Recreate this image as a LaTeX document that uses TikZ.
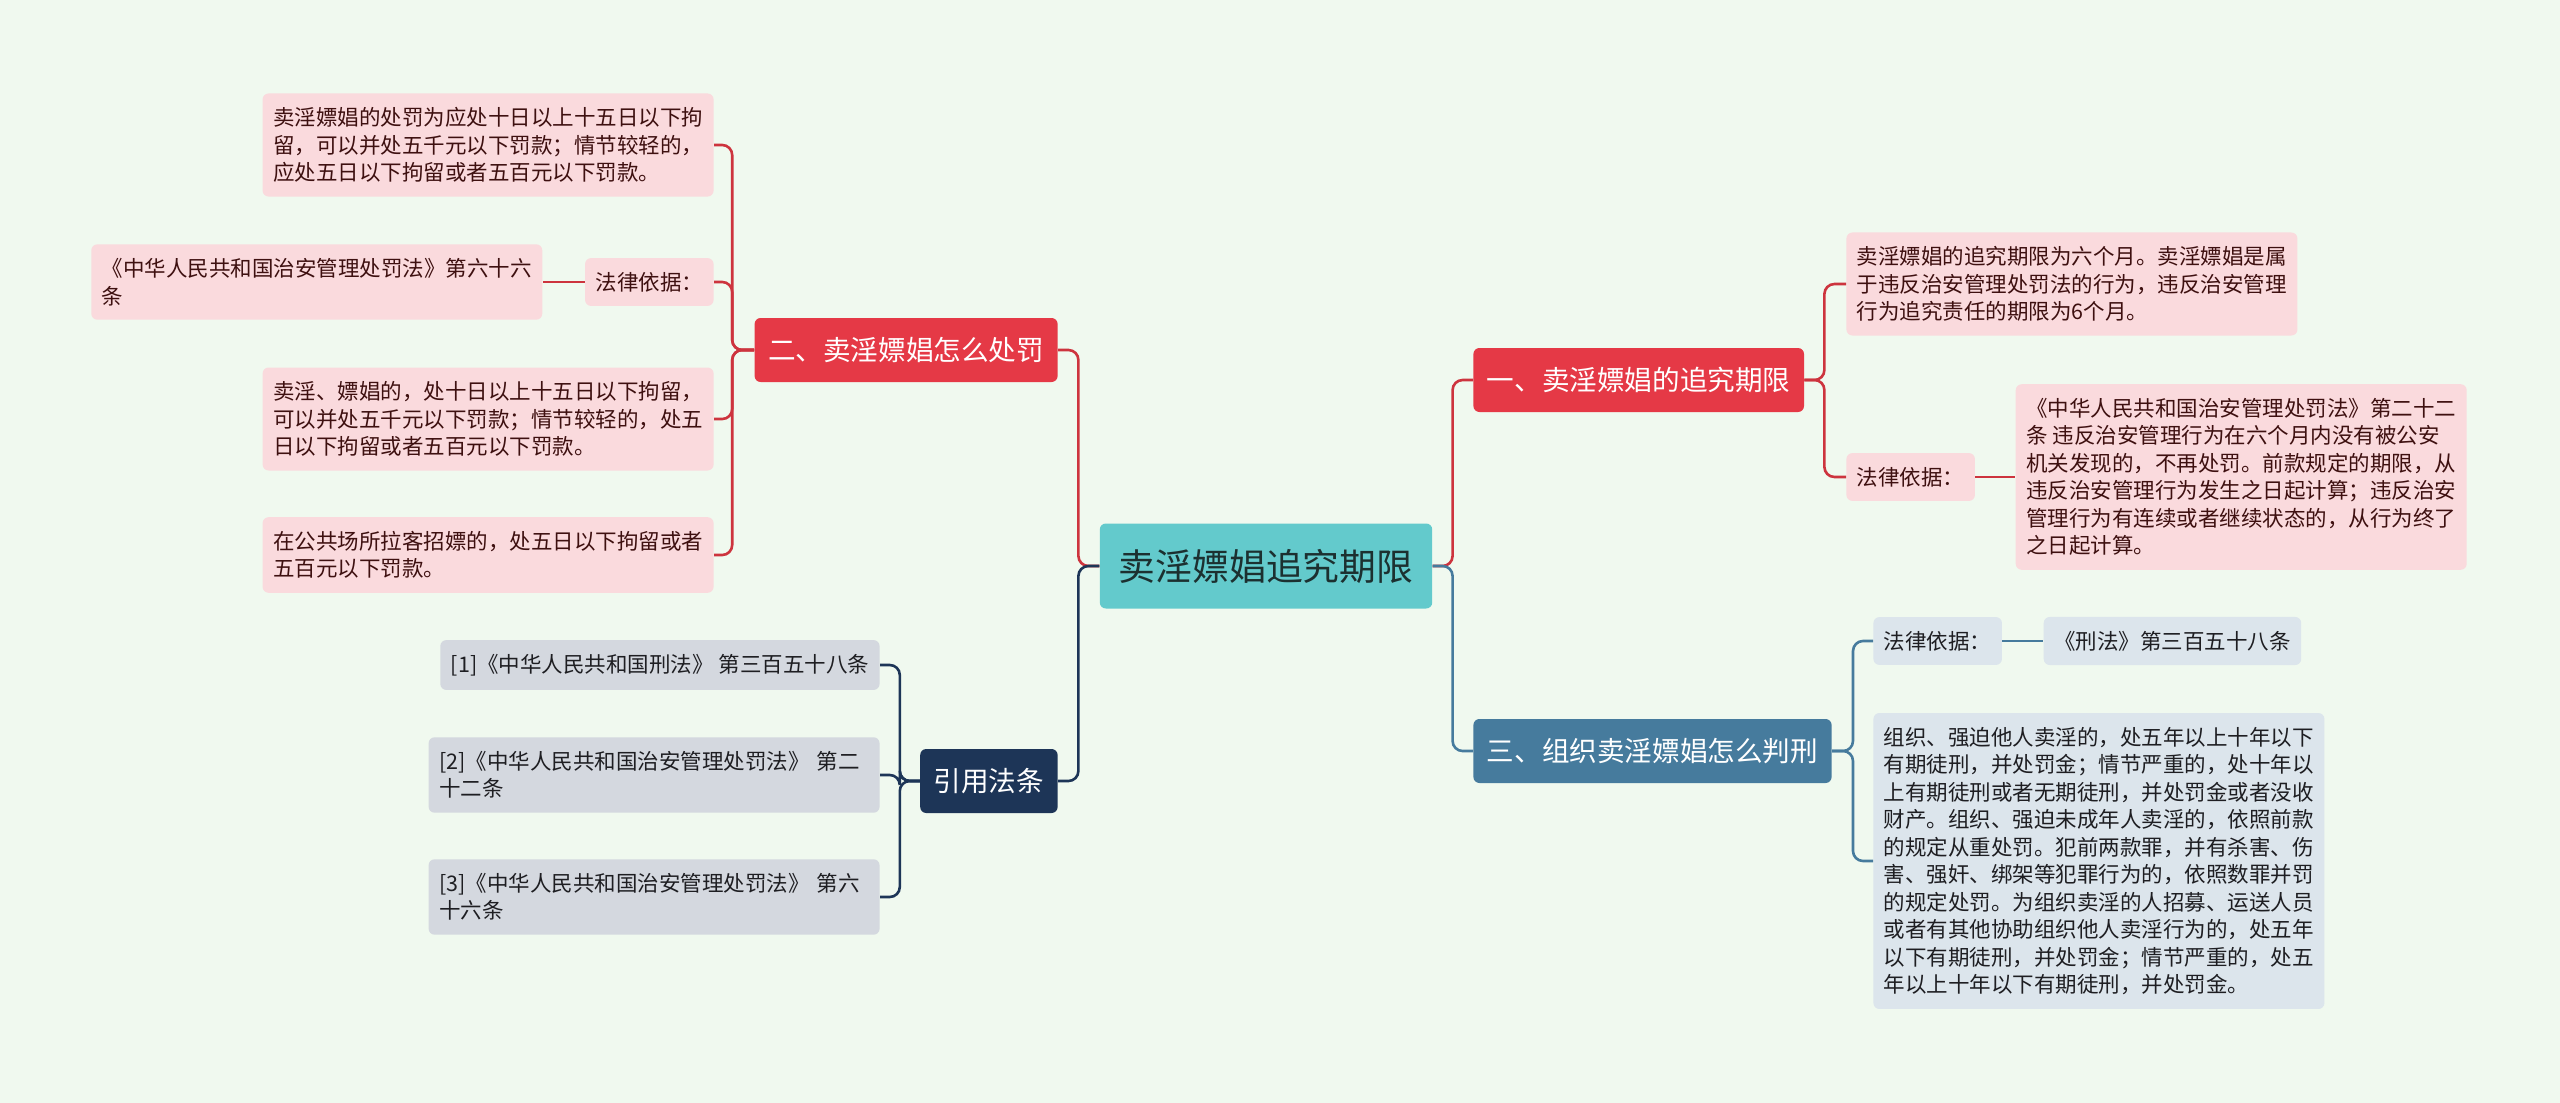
\documentclass[tikz,border=0pt]{standalone}
\usepackage{fontspec}
\setmainfont{Noto Sans CJK SC}
\usepackage{xcolor}
\usepackage{tikz}
\usetikzlibrary{positioning}

\definecolor{bgmint}{RGB}{240,249,239}
\definecolor{rootteal}{RGB}{99,202,204}
\definecolor{roottext}{RGB}{28,48,48}
\definecolor{topicred}{RGB}{229,57,70}
\definecolor{linered}{RGB}{205,52,62}
\definecolor{leafpink}{RGB}{250,218,221}
\definecolor{pinktext}{RGB}{62,16,16}
\definecolor{topicnavy}{RGB}{29,53,87}
\definecolor{leafgray}{RGB}{212,216,223}
\definecolor{topicblue}{RGB}{70,123,157}
\definecolor{leafblue}{RGB}{220,229,236}
\definecolor{leaftext}{RGB}{30,30,34}

\tikzset{
  box/.style={rounded corners=3pt, align=left},
  rootbox/.style={box, fill=rootteal, text=roottext, font=\fontsize{18.4}{22}\selectfont, inner xsep=9.5pt, minimum height=42.5pt},
  topicbox/.style={box, text=white, font=\fontsize{13.8}{16}\selectfont, inner xsep=6.75pt, minimum height=32pt},
  leafbox/.style={box, font=\fontsize{10.75}{13.75}\selectfont, inner xsep=5.25pt, inner ysep=7pt},
  pinkleaf/.style={leafbox, fill=leafpink, text=pinktext},
  grayleaf/.style={leafbox, fill=leafgray, text=leaftext},
  blueleaf/.style={leafbox, fill=leafblue, text=leaftext},
  link/.style={line width=1.3pt, rounded corners=5pt}
}

\begin{document}
\begin{tikzpicture}[x=0.5pt, y=-0.5pt]
  \fill[bgmint] (0,0) rectangle (2560,1103);

  \node[rootbox] (root) at (1266,566) {卖淫嫖娼追究期限};

  \node[topicbox, fill=topicred, anchor=east] (punish) at (1058,350) {二、卖淫嫖娼怎么处罚};
  \node[pinkleaf, anchor=east] (pfirst) at (714,145) {卖淫嫖娼的处罚为应处十日以上十五日以下拘\\留，可以并处五千元以下罚款；情节较轻的，\\应处五日以下拘留或者五百元以下罚款。};
  \node[pinkleaf, anchor=east] (plaw) at (714,282) {法律依据：};
  \node[pinkleaf, left=21pt of plaw] (plawtext) {《中华人民共和国治安管理处罚法》第六十六\\条};
  \node[pinkleaf, anchor=east] (psecond) at (714,419) {卖淫、嫖娼的，处十日以上十五日以下拘留，\\可以并处五千元以下罚款；情节较轻的，处五\\日以下拘留或者五百元以下罚款。};
  \node[pinkleaf, anchor=east] (pthird) at (714,555) {在公共场所拉客招嫖的，处五日以下拘留或者\\五百元以下罚款。};

  \node[topicbox, fill=topicnavy, anchor=east] (cite) at (1058,781) {引用法条};
  \node[grayleaf, anchor=east] (citeone) at (880,665) {[1]《中华人民共和国刑法》 第三百五十八条};
  \node[grayleaf, anchor=east, text width=215pt] (citetwo) at (880,775) {[2]《中华人民共和国治安管理处罚法》 第二\\十二条};
  \node[grayleaf, anchor=east, text width=215pt] (citethree) at (880,897) {[3]《中华人民共和国治安管理处罚法》 第六\\十六条};

  \node[topicbox, fill=topicred, anchor=west] (limit) at (1473,380) {一、卖淫嫖娼的追究期限};
  \node[pinkleaf, anchor=west] (lfirst) at (1846,284) {卖淫嫖娼的追究期限为六个月。卖淫嫖娼是属\\于违反治安管理处罚法的行为，违反治安管理\\行为追究责任的期限为6个月。};
  \node[pinkleaf, anchor=west] (llaw) at (1846,477) {法律依据：};
  \node[pinkleaf, right=20pt of llaw] (llawtext) {《中华人民共和国治安管理处罚法》第二十二\\条 违反治安管理行为在六个月内没有被公安\\机关发现的，不再处罚。前款规定的期限，从\\违反治安管理行为发生之日起计算；违反治安\\管理行为有连续或者继续状态的，从行为终了\\之日起计算。};

  \node[topicbox, fill=topicblue, anchor=west] (sentence) at (1473,751) {三、组织卖淫嫖娼怎么判刑};
  \node[blueleaf, anchor=west] (slaw) at (1873,641) {法律依据：};
  \node[blueleaf, right=20.5pt of slaw] (slawtext) {《刑法》第三百五十八条};
  \node[blueleaf, anchor=west] (stext) at (1873,861) {组织、强迫他人卖淫的，处五年以上十年以下\\有期徒刑，并处罚金；情节严重的，处十年以\\上有期徒刑或者无期徒刑，并处罚金或者没收\\财产。组织、强迫未成年人卖淫的，依照前款\\的规定从重处罚。犯前两款罪，并有杀害、伤\\害、强奸、绑架等犯罪行为的，依照数罪并罚\\的规定处罚。为组织卖淫的人招募、运送人员\\或者有其他协助组织他人卖淫行为的，处五年\\以下有期徒刑，并处罚金；情节严重的，处五\\年以上十年以下有期徒刑，并处罚金。};

  \draw[link, linered] (root.west) -- ++(-21,0) |- (punish.east);
  \draw[link, topicnavy] (root.west) -- ++(-21,0) |- (cite.east);
  \draw[link, linered] (root.east) -- ++(20,0) |- (limit.west);
  \draw[link, topicblue] (root.east) -- ++(20,0) |- (sentence.west);

  \foreach \leaf in {pfirst,plaw,psecond,pthird}
    \draw[link, linered] (punish.west) -- ++(-22,0) |- (\leaf.east);
  \draw[link, linered] (plaw.west) -- (plawtext.east);
  \foreach \leaf in {citeone,citetwo,citethree}
    \draw[link, topicnavy] (cite.west) -- ++(-20,0) |- (\leaf.east);
  \foreach \leaf in {lfirst,llaw}
    \draw[link, linered] (limit.east) -- ++(20,0) |- (\leaf.west);
  \draw[link, linered] (llaw.east) -- (llawtext.west);
  \foreach \leaf in {slaw,stext}
    \draw[link, topicblue] (sentence.east) -- ++(21,0) |- (\leaf.west);
  \draw[link, topicblue] (slaw.east) -- (slawtext.west);
\end{tikzpicture}
\end{document}
